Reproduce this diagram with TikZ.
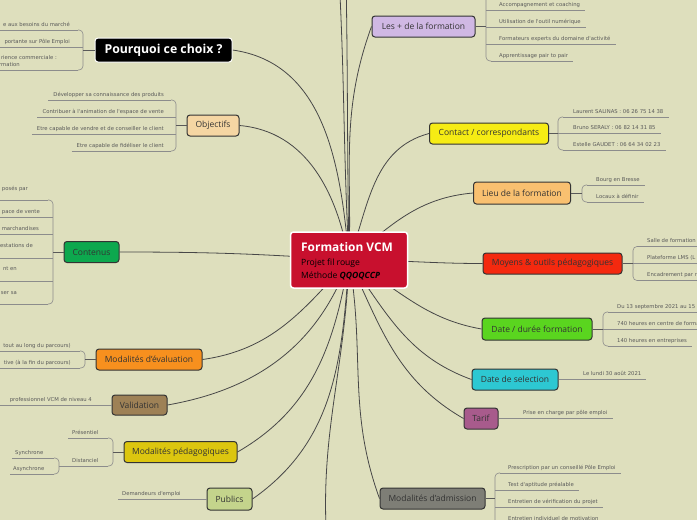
\documentclass[tikz,border=0pt]{standalone}
\usepackage{fontspec}
\setmainfont{Open Sans}
\newfontfamily\itmfont{DejaVu Sans}
\usetikzlibrary{backgrounds,calc}
\definecolor{bgc}{RGB}{222,223,189}
\definecolor{cCtr}{RGB}{200,16,46}
\definecolor{cObj}{RGB}{245,214,163}
\definecolor{cCont}{RGB}{13,168,78}
\definecolor{cEval}{RGB}{247,144,30}
\definecolor{cVal}{RGB}{158,129,86}
\definecolor{cPeda}{RGB}{220,198,15}
\definecolor{cPub}{RGB}{196,212,140}
\definecolor{cPlus}{RGB}{208,184,228}
\definecolor{cCont2}{RGB}{246,236,20}
\definecolor{cLieu}{RGB}{249,192,112}
\definecolor{cMoy}{RGB}{244,41,15}
\definecolor{cDate}{RGB}{90,213,31}
\definecolor{cSel}{RGB}{45,200,210}
\definecolor{cTarif}{RGB}{168,91,140}
\definecolor{cAdm}{RGB}{126,126,118}
\tikzset{
  topic/.style={draw=black!80, line width=1pt, rounded corners=3pt, inner sep=0pt,
    font=\fontsize{8.5}{10}\selectfont, text=black!80},
  itm/.style={inner sep=0pt, font=\itmfont\fontsize{5.3}{6}\selectfont, text=black!65},
  uline/.style={draw=black!45, line width=0.6pt},
  brk/.style={uline, rounded corners=4pt},
  conn/.style={draw=black!72, line width=0.8pt},
  stem/.style={draw=black!65, line width=0.8pt}
}
\newcommand\RI[5]{\node[itm,anchor=base west] (#1) at (#3,-#4+4) {#5};
  \draw[uline] let \p1=(#1.east) in (#2,-#4) -- (\x1+5,-#4);}
\newcommand\LI[5]{\node[itm,anchor=base east] (#1) at (#3,-#4+4) {#5};
  \draw[uline] let \p1=(#1.west) in (\x1-5,-#4) -- (#2,-#4);}
\begin{document}
\begin{tikzpicture}[x=1pt,y=1pt]
\useasboundingbox (0,0) rectangle (697,-520);
\begin{pgfonlayer}{background}
\fill[bgc] (0,0) rectangle (697,-520);
\end{pgfonlayer}

% ---------- center
\node[fill=cCtr, draw=white, line width=1.5pt, rounded corners=3pt, inner sep=0pt,
  minimum width=117pt, minimum height=56pt] (ctr) at (349,-260) {};
\node[anchor=base west, inner sep=0pt, text=white, font=\bfseries\fontsize{11.9}{13}\selectfont] (ct1) at (301,-251) {Formation VCM};
\node[anchor=base west, inner sep=0pt, font=\fontsize{8.6}{10}\selectfont] (ct2) at (301,-265) {Projet fil rouge};
\node[anchor=base west, inner sep=0pt, font=\fontsize{8.6}{10}\selectfont] (ct3) at (301,-278.5) {Méthode \textbf{\textit{QQOQCCP}}};

% ---------- main topics
\node[topic, fill=black, draw=white, text=white, font=\bfseries\fontsize{12.3}{14}\selectfont,
  minimum width=137pt, minimum height=24pt] (why) at (163.5,-50) {Pourquoi ce choix ?};
\node[topic, fill=cObj, minimum width=52pt, minimum height=21pt] (obj) at (213,-125.5) {Objectifs};
\node[topic, fill=cCont, minimum width=55pt, minimum height=21pt] (cont) at (91.5,-252) {Contenus};
\node[topic, fill=cEval, minimum width=106pt, minimum height=21pt] (eval) at (149,-359.5) {Modalités d'évaluation};
\node[topic, fill=cVal, minimum width=55pt, minimum height=20pt] (valid) at (139.5,-405) {Validation};
\node[topic, fill=cPeda, minimum width=113pt, minimum height=21pt] (peda) at (180.5,-452) {Modalités pédagogiques};
\node[topic, fill=cPub, minimum width=45pt, minimum height=22pt] (pub) at (229.5,-499) {Publics};

\node[topic, fill=cPlus, minimum width=103pt, minimum height=21pt] (plus) at (423.5,-26.5) {Les + de la formation};
\node[topic, fill=cCont2, minimum width=119pt, minimum height=21pt] (contact) at (489,-133.5) {Contact / correspondants};
\node[topic, fill=cLieu, minimum width=97pt, minimum height=22pt] (lieu) at (522,-193) {Lieu de la formation};
\node[topic, fill=cMoy, minimum width=139pt, minimum height=21pt] (moy) at (552.5,-263.5) {Moyens \& outils pédagogiques};
\node[topic, fill=cDate, minimum width=110pt, minimum height=22pt] (date) at (537,-329) {Date / durée formation};
\node[topic, fill=cSel, minimum width=86pt, minimum height=21pt] (sel) at (515,-379.5) {Date de selection};
\node[topic, fill=cTarif, minimum width=34pt, minimum height=21pt] (tarif) at (481,-418.5) {Tarif};
\node[topic, fill=cAdm, minimum width=105pt, minimum height=21pt] (adm) at (432.5,-498.5) {Modalités d'admission};

% ---------- off-canvas ends
\coordinate (topA) at (339,25);
\coordinate (topB) at (346,25);
\coordinate (botA) at (327,-545);

% ---------- connectors from center
\begin{pgfonlayer}{background}
\draw[conn] (ctr.center) to[out=95,in=-8] (why.east);
\draw[conn] (ctr.center) to[out=100,in=-5] (obj.east);
\draw[conn] (ctr.center) to[out=176,in=0] (cont.east);
\draw[conn] (ctr.center) to[out=228,in=8] (eval.east);
\draw[conn] (ctr.center) to[out=250,in=10] (valid.east);
\draw[conn] (ctr.center) to[out=260,in=30] (peda.east);
\draw[conn] (ctr.center) to[out=266,in=35] (pub.east);
\draw[conn] (ctr.center) to[out=93,in=-87] (topA);
\draw[conn] (ctr.center) to[out=91,in=-89] (topB);
\draw[conn] (ctr.center) to[out=268,in=94] (botA);
\draw[conn] (ctr.center) to[out=88,in=250] (plus.west);
\draw[conn] (ctr.center) to[out=70,in=195] (contact.west);
\draw[conn] (ctr.center) to[out=40,in=185] (lieu.west);
\draw[conn] (ctr.center) to[out=0,in=180] (moy.west);
\draw[conn] (ctr.center) to[out=-30,in=170] (date.west);
\draw[conn] (ctr.center) to[out=-55,in=160] (sel.west);
\draw[conn] (ctr.center) to[out=-65,in=150] (tarif.west);
\draw[conn] (ctr.center) to[out=-80,in=110] (adm.west);
\end{pgfonlayer}

% ---------- Pourquoi ce choix
\draw[brk] (78,-30) -- (83,-30) -- (83,-70) -- (78,-70);
\draw[stem] (why.west) -- (83,-50);
\node[itm,anchor=base east] (w1) at (70,-26) {e aux besoins du marché};
\draw[uline] (-5,-30) -- (78,-30);
\node[itm,anchor=base east] (w2) at (70,-43) {portante sur Pôle Emploi};
\draw[uline] (-5,-47) -- (83,-47);
\node[itm,anchor=base east] (w3) at (57,-59) {rience commerciale :};
\node[itm,anchor=base east] (w3b) at (20,-66) {rmation};
\draw[uline] (-5,-70) -- (78,-70);

% ---------- Objectifs
\draw[brk] (171,-100) -- (176,-100) -- (176,-151) -- (171,-151);
\draw[stem] (obj.west) -- (176,-125.5);
\LI{o1}{171}{164}{100}{Développer sa connaissance des produits}
\LI{o2}{176}{164}{117}{Contribuer à l'animation de l'espace de vente}
\LI{o3}{176}{164}{134}{Etre capable de vendre et de conseiller le client}
\LI{o4}{171}{164}{151}{Etre capable de fidéliser le client}

% ---------- Contenus
\draw[brk] (48,-200) -- (53,-200) -- (53,-304) -- (48,-304);
\draw[stem] (cont.west) -- (53,-252);
\node[itm,anchor=base east] (c1) at (28,-190) {posés par};
\node[itm,anchor=base east] (c2) at (40,-213) {pace de vente};
\node[itm,anchor=base east] (c3) at (39,-230) {marchandises};
\node[itm,anchor=base east] (c4) at (33,-247) {estations de};
\node[itm,anchor=base east] (c5) at (17,-270) {nt en};
\node[itm,anchor=base east] (c6) at (17,-294) {ser sa};
\draw[uline] (-5,-200) -- (48,-200);
\draw[uline] (-5,-217) -- (53,-217);
\draw[uline] (-5,-234) -- (53,-234);
\draw[uline] (-5,-258) -- (53,-258);
\draw[uline] (-5,-281) -- (53,-281);
\draw[uline] (-5,-304) -- (48,-304);

% ---------- Modalites d'evaluation
\draw[brk] (80,-351) -- (85,-351) -- (85,-368) -- (80,-368);
\draw[stem] (eval.west) -- (85,-359.5);
\node[itm,anchor=base east] (e1) at (71,-347) {tout au long du parcours)};
\node[itm,anchor=base east] (e2) at (71,-364) {tive (à la fin du parcours)};
\draw[uline] (-5,-351) -- (80,-351);
\draw[uline] (-5,-368) -- (80,-368);

% ---------- Validation
\node[itm,anchor=base east] (v1) at (92,-401) {professionnel VCM de niveau 4};
\draw[uline] (-5,-405) -- (valid.west |- 0,-405);

% ---------- Modalites pedagogiques
\draw[brk] (108,-438) -- (113,-438) -- (113,-466) -- (108,-466);
\draw[stem] (peda.west) -- (113,-452);
\node[itm,anchor=base west] (p1) at (72,-434) {Présentiel};
\draw[uline] (68,-438) -- (108,-438);
\node[itm,anchor=base west] (p2) at (72,-462) {Distanciel};
\draw[uline] (59,-466) -- (108,-466);
\draw[brk] (54,-458) -- (59,-458) -- (59,-474) -- (54,-474);
\node[itm,anchor=base west] (p3) at (15,-454) {Synchrone};
\draw[uline] (12,-458) -- (54,-458);
\node[itm,anchor=base west] (p4) at (13,-470) {Asynchrone};
\draw[uline] (10,-474) -- (54,-474);

% ---------- Publics
\node[itm,anchor=base west] (pu1) at (122,-495) {Demandeurs d'emploi};
\draw[uline] (118,-499) -- (pub.west);

% ---------- Les + de la formation
\draw[brk] (486,5) -- (486,-61) -- (491,-61);
\draw[stem] (plus.east) -- (486,-26.5);
\RI{l1}{486}{499}{10}{Accompagnement et coaching}
\RI{l2}{486}{499}{27}{Utilisation de l'outil numérique}
\RI{l3}{486}{499}{44}{Formateurs experts du domaine d'activité}
\RI{l4}{491}{499}{61}{Apprentissage pair to pair}

% ---------- Contact
\draw[brk] (563,-117) -- (558,-117) -- (558,-150) -- (563,-150);
\draw[stem] (contact.east) -- (558,-133.5);
\RI{k1}{563}{573}{117}{Laurent SALINAS : 06 26 75 14 38}
\RI{k2}{558}{573}{133.5}{Bruno SERALY : 06 82 14 31 85}
\RI{k3}{563}{573}{150}{Estelle GAUDET : 06 64 34 02 23}

% ---------- Lieu
\draw[brk] (587,-185) -- (582,-185) -- (582,-202) -- (587,-202);
\draw[stem] (lieu.east) -- (582,-193);
\RI{li1}{587}{596}{185}{Bourg en Bresse}
\RI{li2}{587}{596}{202}{Locaux à définir}

% ---------- Moyens
\draw[brk] (638,-246.5) -- (633,-246.5) -- (633,-280.5) -- (638,-280.5);
\draw[stem] (moy.east) -- (633,-263.5);
\RI{m1}{638}{647}{246.5}{Salle de formation}
\RI{m2}{633}{647}{263.5}{Plateforme LMS (L}
\RI{m3}{638}{647}{280.5}{Encadrement par r}

% ---------- Date / duree
\draw[brk] (608,-312) -- (603,-312) -- (603,-346) -- (608,-346);
\draw[stem] (date.east) -- (603,-329);
\RI{d1}{608}{617}{312}{Du 13 septembre 2021 au 15}
\RI{d2}{603}{617}{329}{740 heures en centre de forma}
\RI{d3}{608}{617}{346}{140 heures en entreprises}

% ---------- Date de selection
\node[itm,anchor=base west] (s1) at (583,-375.5) {Le lundi 30 août 2021};
\draw[uline] let \p1=(s1.east) in (sel.east) -- (\x1+5,-379.5);

% ---------- Tarif
\node[itm,anchor=base west] (t1) at (523,-414.5) {Prise en charge par pôle emploi};
\draw[uline] let \p1=(t1.east) in (tarif.east) -- (\x1+5,-418.5);

% ---------- Modalites d'admission
\draw[brk] (500,-473) -- (495,-473) -- (495,-524) -- (500,-524);
\draw[stem] (adm.east) -- (495,-498.5);
\RI{a1}{500}{508}{473}{Prescription par un conseillé Pôle Emploi}
\RI{a2}{495}{508}{490}{Test d'aptitude préalable}
\RI{a3}{495}{508}{507}{Entretien de vérification du projet}
\RI{a4}{500}{508}{524}{Entretien individuel de motivation}
\end{tikzpicture}
\end{document}
